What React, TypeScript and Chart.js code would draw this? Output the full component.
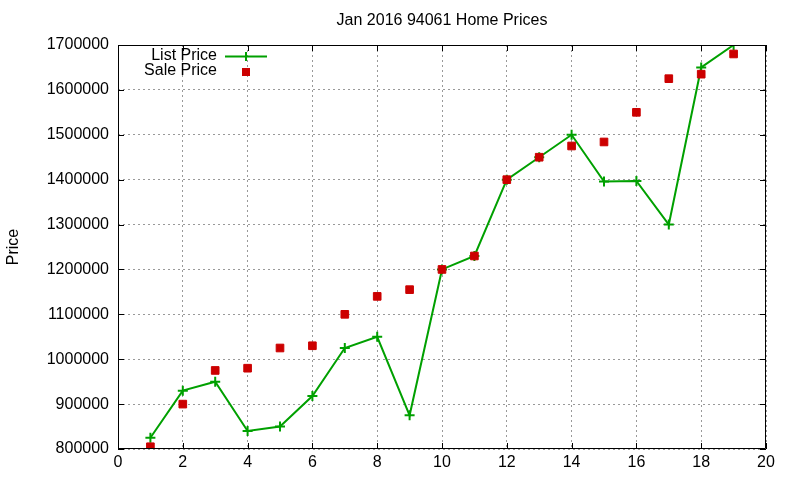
import React, { useEffect, useRef } from "react";
import { Chart, registerables } from "chart.js";

Chart.register(...registerables);

const TITLE = "Jan 2016 94061 Home Prices";
const Y_TITLE = "Price";
const houseIndex = [1, 2, 3, 4, 5, 6, 7, 8, 9, 10, 11, 12, 13, 14, 15, 16, 17, 18, 19];
const listPrice = [825000, 930000, 950000, 840000, 850000, 918000, 1025000, 1050000, 875000, 1200000, 1230000, 1400000, 1450000, 1500000, 1396000, 1397000, 1300000, 1650000, 1700000];
const salePrice = [805000, 900000, 975000, 980000, 1025000, 1030000, 1100000, 1140000, 1155000, 1200000, 1230000, 1400000, 1450000, 1475000, 1484000, 1550000, 1625000, 1635000, 1680000];
const seriesNames = ["List Price", "Sale Price"];

const GREEN = "#00a000";
const RED = "#cc0000";
const FONT = "'Liberation Sans', Arial, sans-serif";
const FS = 16;

const framePlugin = {
  id: "frame",
  afterDraw(chart: any) {
    const { ctx, chartArea } = chart;
    const { left, right, top, bottom } = chartArea;
    const xs = chart.scales.x;
    const ys = chart.scales.y;
    ctx.save();
    ctx.strokeStyle = "#000";
    ctx.lineWidth = 1;
    ctx.setLineDash([]);
    ctx.beginPath();
    ctx.rect(left + 0.5, top + 0.5, right - left - 1, bottom - top - 1);
    ctx.stroke();
    const tl = 6;
    ctx.beginPath();
    ys.ticks.forEach((t: any) => {
      const y = Math.round(ys.getPixelForValue(t.value)) + 0.5;
      ctx.moveTo(left, y);
      ctx.lineTo(left + tl, y);
      ctx.moveTo(right, y);
      ctx.lineTo(right - tl, y);
    });
    xs.ticks.forEach((t: any) => {
      const x = Math.round(xs.getPixelForValue(t.value)) + 0.5;
      ctx.moveTo(x, bottom);
      ctx.lineTo(x, bottom - tl);
      ctx.moveTo(x, top);
      ctx.lineTo(x, top + tl);
    });
    ctx.stroke();

    // title
    ctx.fillStyle = "#000";
    ctx.font = `${FS}px ${FONT}`;
    ctx.textAlign = "center";
    ctx.textBaseline = "middle";
    ctx.fillText(TITLE, (left + right) / 2, 21);

    // legend
    ctx.textAlign = "right";
    ctx.fillText(seriesNames[0], 217, 56);
    ctx.fillText(seriesNames[1], 217, 71);
    ctx.strokeStyle = GREEN;
    ctx.lineWidth = 2;
    ctx.beginPath();
    ctx.moveTo(225, 56.5);
    ctx.lineTo(267, 56.5);
    ctx.moveTo(246, 52);
    ctx.lineTo(246, 61);
    ctx.stroke();
    ctx.fillStyle = RED;
    ctx.fillRect(242, 68, 8, 8);
    ctx.restore();
  },
};

export default function App() {
  const ref = useRef<HTMLCanvasElement | null>(null);
  useEffect(() => {
    if (!ref.current) return;
    const chart = new Chart(ref.current, {
      type: "line",
      data: {
        datasets: [
          {
            label: seriesNames[0],
            data: houseIndex.map((x, i) => ({ x, y: listPrice[i] })),
            borderColor: GREEN,
            backgroundColor: GREEN,
            borderWidth: 2,
            pointStyle: "cross",
            pointRadius: 5,
            pointBorderWidth: 2,
            pointBorderColor: GREEN,
            tension: 0,
            order: 2,
          },
          {
            label: seriesNames[1],
            data: houseIndex.map((x, i) => ({ x, y: salePrice[i] })),
            showLine: false,
            borderColor: RED,
            backgroundColor: RED,
            pointStyle: "rect",
            pointRadius: 5.4,
            pointBorderWidth: 1,
            pointBorderColor: RED,
            pointBackgroundColor: RED,
            order: 1,
          },
        ],
      },
      options: {
        responsive: false,
        animation: false,
        layout: { padding: { left: 0, right: 34, top: 45, bottom: 0 } },
        plugins: {
          legend: { display: false },
          title: { display: false },
          tooltip: { enabled: false },
        },
        scales: {
          x: {
            type: "linear",
            min: 0,
            max: 20,
            ticks: {
              stepSize: 2,
              color: "#000",
              font: { family: FONT, size: FS },
              padding: 4,
              maxRotation: 0,
              callback: (v: any) => String(v),
            },
            grid: { color: "#999999", drawTicks: false, lineWidth: 1 },
            border: { display: false, dash: [2, 3] },
            afterFit(s: any) {
              s.height = 31;
            },
          },
          y: {
            type: "linear",
            min: 800000,
            max: 1700000,
            ticks: {
              stepSize: 100000,
              color: "#000",
              font: { family: FONT, size: FS },
              padding: 9,
              callback: (v: any) => String(v),
            },
            grid: { color: "#999999", drawTicks: false, lineWidth: 1 },
            border: { display: false, dash: [2, 3] },
            title: { display: true, text: Y_TITLE, color: "#000", font: { family: FONT, size: FS }, padding: 4 },
            afterFit(s: any) {
              s.width = 118;
            },
          },
        },
      },
      plugins: [framePlugin],
    });
    return () => chart.destroy();
  }, []);
  return (
    <div style={{ position: "absolute", left: 0, top: 0, width: 800, height: 480, background: "#fff" }}>
      <canvas ref={ref} width={800} height={480} style={{ display: "block" }} />
    </div>
  );
}
